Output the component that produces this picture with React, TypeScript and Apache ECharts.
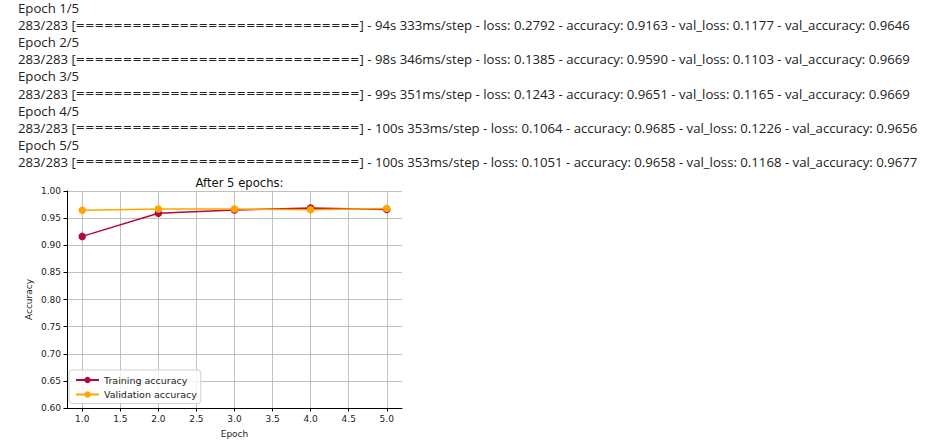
import React, { useEffect, useRef } from "react";
import * as echarts from "echarts";

const epochs = [1, 2, 3, 4, 5];
const trainAccuracy = [0.9163, 0.959, 0.9651, 0.9685, 0.9658];
const valAccuracy = [0.9646, 0.9669, 0.9669, 0.9656, 0.9677];
const trainLoss = [0.2792, 0.1385, 0.1243, 0.1064, 0.1051];
const valLoss = [0.1177, 0.1103, 0.1165, 0.1226, 0.1168];
const stepTimes = ["94s 333ms/step", "98s 346ms/step", "99s 351ms/step", "100s 353ms/step", "100s 353ms/step"];
const stepsDone = "283/283";
const barWidth = 30;
const xTicks = [1.0, 1.5, 2.0, 2.5, 3.0, 3.5, 4.0, 4.5, 5.0];

const TRAIN_COLOR = "#b5083a";
const VAL_COLOR = "#ffa500";
const CONSOLE_FONT = '13.2px "Open Sans"';
const BAR_FONT = '11.3px "DejaVu Sans"';
const TEXT_COLOR = "#222222";

export default function App() {
  const ref = useRef<HTMLDivElement>(null);
  useEffect(() => {
    if (!ref.current) return;
    const chart = echarts.init(ref.current, undefined, { renderer: "svg" });
    const graphics: any[] = [];
    const txt = (x: number, y: number, text: string, font: string) => ({
      type: "text",
      x,
      y,
      style: { text, fill: TEXT_COLOR, font, verticalAlign: "middle" },
    });
    epochs.forEach((e, i) => {
      const yEpoch = 8 + i * 2 * 17.1;
      const yBar = yEpoch + 17.1;
      graphics.push(txt(18, yEpoch, `Epoch ${e}/${epochs.length}`, CONSOLE_FONT));
      graphics.push(txt(18, yBar, `${stepsDone} [`, CONSOLE_FONT));
      graphics.push(txt(75.5, yBar, "=".repeat(barWidth), BAR_FONT));
      graphics.push(
        txt(
          359.5,
          yBar,
          `] - ${stepTimes[i]} - loss: ${trainLoss[i].toFixed(4)} - accuracy: ${trainAccuracy[i].toFixed(4)} - val_loss: ${valLoss[i].toFixed(4)} - val_accuracy: ${valAccuracy[i].toFixed(4)}`,
          CONSOLE_FONT
        )
      );
    });
    const axisFont = { fontFamily: "DejaVu Sans", fontSize: 9, color: "#222" };
    chart.setOption({
      animation: false,
      backgroundColor: "#fff",
      title: {
        text: "After 5 epochs:",
        left: 234.5,
        textAlign: "center",
        top: 172,
        textStyle: { fontFamily: "DejaVu Sans", fontSize: 11.6, fontWeight: "normal", color: "#111" },
      },
      graphic: graphics,
      grid: { left: 67, right: 550, top: 191, bottom: 39 },
      legend: {
        orient: "vertical",
        left: 69,
        top: 370,
        padding: [5, 4, 4, 6],
        itemGap: 4.5,
        itemWidth: 23,
        itemHeight: 8,
        backgroundColor: "rgba(255,255,255,0.8)",
        borderColor: "#d0d0d0",
        borderWidth: 1,
        borderRadius: 3,
        textStyle: { fontFamily: "DejaVu Sans", fontSize: 9.5, color: "#222" },
        data: ["Training accuracy", "Validation accuracy"],
      },
      xAxis: {
        type: "value",
        min: 0.8,
        max: 5.2,
        name: "Epoch",
        nameLocation: "middle",
        nameGap: 21,
        nameTextStyle: axisFont,
        axisLine: { show: true, onZero: false, lineStyle: { color: "#000", width: 1 } },
        axisTick: { show: true, inside: false, length: 3.5, customValues: xTicks, lineStyle: { color: "#000" } },
        axisLabel: { ...axisFont, margin: 6, customValues: xTicks, formatter: (v: number) => v.toFixed(1) },
        splitLine: { show: true, lineStyle: { color: "#b0b0b0", width: 0.8 } },
      },
      yAxis: {
        type: "value",
        min: 0.6,
        max: 1.0,
        interval: 0.05,
        name: "Accuracy",
        nameLocation: "middle",
        nameGap: 34,
        nameTextStyle: axisFont,
        axisLine: { show: true, lineStyle: { color: "#000", width: 1 } },
        axisTick: { show: true, inside: false, length: 3.5, lineStyle: { color: "#000" } },
        axisLabel: { ...axisFont, margin: 6, formatter: (v: number) => v.toFixed(2) },
        splitLine: { show: true, lineStyle: { color: "#b0b0b0", width: 0.8 } },
      },
      series: [
        {
          name: "Training accuracy",
          type: "line",
          data: epochs.map((e, i) => [e, trainAccuracy[i]]),
          symbol: "circle",
          symbolSize: 7.5,
          color: TRAIN_COLOR,
          lineStyle: { width: 1.5, color: TRAIN_COLOR },
          itemStyle: { color: TRAIN_COLOR },
        },
        {
          name: "Validation accuracy",
          type: "line",
          data: epochs.map((e, i) => [e, valAccuracy[i]]),
          symbol: "circle",
          symbolSize: 7.5,
          color: VAL_COLOR,
          lineStyle: { width: 1.5, color: VAL_COLOR },
          itemStyle: { color: VAL_COLOR },
        },
      ],
    });
    return () => chart.dispose();
  }, []);
  return <div ref={ref} style={{ position: "absolute", left: 0, top: 0, width: 952, height: 447 }} />;
}
